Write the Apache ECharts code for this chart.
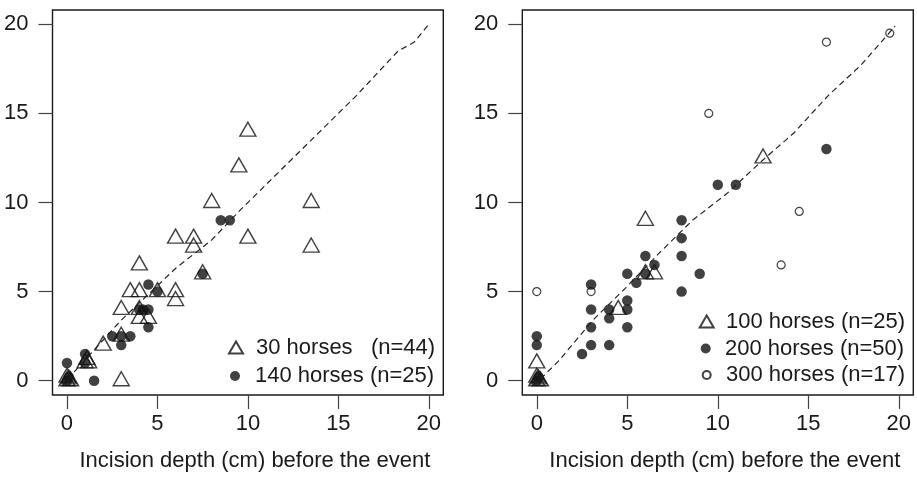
<!DOCTYPE html>
<html lang="en">
<head>
<meta charset="utf-8">
<title>Incision depth</title>
<script src="https://cdn.jsdelivr.net/npm/echarts@6.0.0/dist/echarts.min.js"></script>
</head>
<body style="margin:0;background:#fff">
<div id="main" style="width:917px;height:477px;"></div>
<script type="text/javascript">
// shared axis ticks and title
const ticks = [0, 5, 10, 15, 20];
const axisTitle = 'Incision depth (cm) before the event';

// left panel
const leftNames = ['30 horses   (n=44)', '140 horses (n=25)'];
const horses30 = [
    [0, 0], [0, 0.2], [0.2, 0], [0.1, 0.1], [1, 1], [1.2, 1], [1.1, 1.2], [2, 2], [3, 0],
    [3, 2.5], [3, 4], [3.5, 5], [4, 5], [4, 6.5], [4, 4], [4, 3.5], [4.5, 3.5], [5, 5],
    [6, 5], [6, 4.5], [6, 8], [7, 8], [7, 7.5], [7.5, 6], [8, 10], [9.5, 12], [10, 14],
    [10, 8], [13.5, 10], [13.5, 7.5]
];
const horses140 = [
    [0, 0], [0.1, 0.2], [0, 1], [1, 1], [1, 1.5], [1.5, 0], [2.5, 2.5], [3, 2.5], [3.5, 2.5],
    [3, 2], [4, 4], [4.2, 4], [4.5, 4], [4.5, 3], [4.5, 5.4], [5, 5], [7.5, 6], [8.5, 9], [9, 9]
];
const leftTrend = [
    [0.4, 0.5], [3, 3.4], [6, 6.3], [8, 7.9], [9.6, 9.6], [11, 11], [13.5, 13.5],
    [16, 16], [18.3, 18.5], [19.2, 19], [20, 20]
];

// right panel
const rightNames = ['100 horses (n=25)', '200 horses (n=50)', '300 horses (n=17)'];
const horses100 = [
    [0, 0], [0.1, 0.1], [0.2, 0], [0, 0.2], [0, 1], [4.5, 4], [6, 6], [6.5, 6], [6, 9],
    [12.5, 12.5]
];
const horses200 = [
    [0, 0], [0.1, 0.2], [0, 2], [0, 2.5], [2.5, 1.5], [3, 2], [3, 3], [3, 4], [3, 5.4],
    [4, 2], [4, 3.5], [4, 4], [5, 3], [5, 4], [5, 4.5], [5, 6], [5.5, 5.5], [6, 6], [6, 7],
    [6.5, 6.5], [8, 5], [8, 7], [8, 8], [8, 9], [9, 6], [10, 11], [11, 11], [16, 13]
];
const horses300 = [
    [0, 5], [3, 5], [9.5, 15], [13.5, 6.5], [14.5, 9.5], [16, 19], [19.5, 19.5]
];
const rightTrend = [
    [0.2, 0.1], [1.2, 1.1], [3.1, 3.4], [4.9, 5.2], [6.8, 7.2], [8.6, 9], [10.5, 10.5],
    [12.4, 12.3], [14.2, 13.9], [16.1, 16], [17.9, 17.7], [19.8, 19.9]
];

const font = '"Liberation Sans", Arial, sans-serif';
const ink = '#111';
const textColor = '#1a1a1a';

function makeX(i) {
    return {
        gridIndex: i, type: 'value', min: -0.8, max: 20.8,
        axisLine: { show: false, onZero: false },
        splitLine: { show: false },
        axisTick: { customValues: ticks, length: 14, lineStyle: { color: '#444', width: 1.2 } },
        axisLabel: { customValues: ticks, margin: 18, fontSize: 22, color: textColor, fontFamily: font },
        name: axisTitle, nameLocation: 'middle', nameGap: 55,
        nameTextStyle: { fontSize: 22, color: textColor, fontFamily: font, padding: [0, 0, 0, 14] }
    };
}
function makeY(i) {
    return {
        gridIndex: i, type: 'value', min: -0.8, max: 20.8,
        axisLine: { show: false, onZero: false },
        splitLine: { show: false },
        axisTick: { customValues: ticks, length: 14, lineStyle: { color: '#444', width: 1.2 } },
        axisLabel: { customValues: ticks, margin: 24, fontSize: 22, color: textColor, fontFamily: font }
    };
}
function trend(i, data) {
    return {
        type: 'line', xAxisIndex: i, yAxisIndex: i, data: data, symbol: 'none', silent: true,
        lineStyle: { type: [6, 4], width: 1.2, color: '#222' }
    };
}
function triangles(i, name, data) {
    return {
        name: name, type: 'scatter', xAxisIndex: i, yAxisIndex: i, data: data,
        symbol: 'triangle', symbolSize: [16, 14], symbolOffset: [0, -2],
        itemStyle: { color: 'rgba(0,0,0,0)', borderColor: ink, borderWidth: 1.4 }
    };
}
function dots(i, name, data) {
    return {
        name: name, type: 'scatter', xAxisIndex: i, yAxisIndex: i, data: data,
        symbol: 'circle', symbolSize: 10.5, itemStyle: { color: ink }
    };
}
function rings(i, name, data) {
    return {
        name: name, type: 'scatter', xAxisIndex: i, yAxisIndex: i, data: data,
        symbol: 'circle', symbolSize: 8,
        itemStyle: { color: 'rgba(0,0,0,0)', borderColor: ink, borderWidth: 1.2 }
    };
}
// one legend per row so each icon keeps its own size;
// the top padding lifts the icon a little above the text, as in the original
function legendRow(name, cx, textY, w, h, textX) {
    let left = cx - w / 2;
    return {
        orient: 'vertical', left: left, top: textY - 19, padding: 0,
        itemWidth: w, itemHeight: h, selectedMode: false, data: [name],
        textStyle: {
            fontSize: 22, color: textColor, fontFamily: font, lineHeight: 24,
            padding: [7, 0, 0, textX - (left + w + 5)]
        }
    };
}

let myChart = echarts.init(document.getElementById('main'));

let options = {
    animation: false,
    backgroundColor: '#fff',
    grid: [
        { left: 52.5, top: 10, width: 390.8, height: 390.7, show: true, borderColor: '#1a1a1a', borderWidth: 1.4 },
        { left: 522.3, top: 10, width: 391, height: 390.7, show: true, borderColor: '#1a1a1a', borderWidth: 1.4 }
    ],
    xAxis: [makeX(0), makeX(1)],
    yAxis: [makeY(0), makeY(1)],
    legend: [
        legendRow(leftNames[0], 235, 351, 14, 12, 255),
        legendRow(leftNames[1], 235, 379.5, 10, 10, 255),
        legendRow(rightNames[0], 705.7, 325, 14, 12, 725),
        legendRow(rightNames[1], 705.7, 352, 10, 10, 725),
        legendRow(rightNames[2], 705.7, 378.5, 8, 8, 725)
    ],
    series: [
        trend(0, leftTrend),
        triangles(0, leftNames[0], horses30),
        dots(0, leftNames[1], horses140),
        trend(1, rightTrend),
        rings(1, rightNames[2], horses300),
        triangles(1, rightNames[0], horses100),
        dots(1, rightNames[1], horses200)
    ]
};

myChart.setOption(options);
</script>
</body>
</html>
